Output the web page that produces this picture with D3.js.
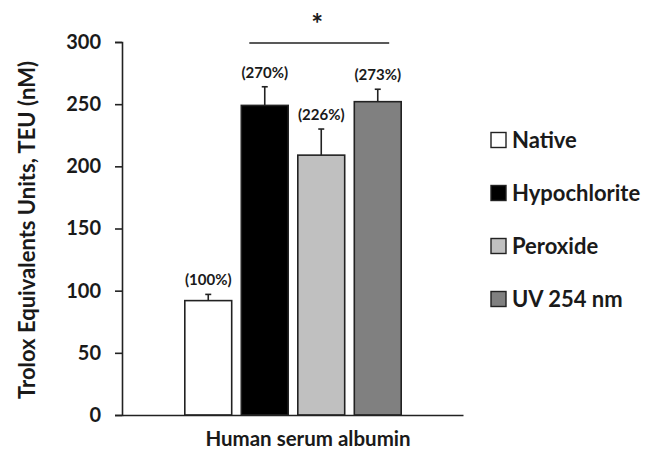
<!DOCTYPE html>
<html>
<head>
<meta charset="utf-8">
<script src="https://cdn.jsdelivr.net/npm/d3@7"></script>
<style>
  html, body { margin: 0; padding: 0; background: #fff; }
  svg text { font-family: Lato, "Open Sans", sans-serif; font-weight: 700; fill: #1a1a1a; }
</style>
</head>
<body>
<svg id="chart" width="655" height="452"></svg>
<script>
// Antioxidant capacity of human serum albumin after oxidative treatments
const groups = ["Human serum albumin"];
const treatments = ["Native", "Hypochlorite", "Peroxide", "UV 254 nm"];
const teuMeans = [92, 249, 209, 252];
const teuErrors = [5, 15, 21, 10];
const percentLabels = ["(100%)", "(270%)", "(226%)", "(273%)"];
const fills = ["#ffffff", "#000000", "#c0c0c0", "#808080"];
const yTicks = [0, 50, 100, 150, 200, 250, 300];

const svg = d3.select("#chart");
const plotLeft = 122, plotRight = 463, plotTop = 42, plotBottom = 415;

const y = d3.scaleLinear().domain([0, 300]).range([plotBottom, plotTop]);
const x0 = d3.scaleBand().domain(groups).range([plotLeft, plotRight]).paddingInner(0).paddingOuter(0);
// inner band spans the bar cluster inside the group band
const x1 = d3.scaleBand().domain(treatments)
  .range([58, 58 + 226]).paddingInner(0.17).paddingOuter(0.085);

const data = treatments.map((t, i) => ({
  t, v: teuMeans[i], e: teuErrors[i], p: percentLabels[i], c: fills[i]
}));

const barX = d => x0(groups[0]) + x1(d.t);
const cx = d => barX(d) + x1.bandwidth() / 2;

// bars
const g = svg.append("g");
g.selectAll("rect.bar").data(data).join("rect")
  .attr("class", "bar")
  .attr("x", barX)
  .attr("y", d => y(d.v))
  .attr("width", x1.bandwidth())
  .attr("height", d => y(0) - y(d.v))
  .attr("fill", d => d.c)
  .attr("stroke", "#222")
  .attr("stroke-width", 1.6);

// error bars (upper only)
g.selectAll("line.err").data(data).join("line")
  .attr("class", "err")
  .attr("x1", cx).attr("x2", cx)
  .attr("y1", d => y(d.v)).attr("y2", d => y(d.v + d.e))
  .attr("stroke", "#222").attr("stroke-width", 1.6);
g.selectAll("line.cap").data(data).join("line")
  .attr("class", "cap")
  .attr("x1", d => cx(d) - 3).attr("x2", d => cx(d) + 3)
  .attr("y1", d => y(d.v + d.e)).attr("y2", d => y(d.v + d.e))
  .attr("stroke", "#222").attr("stroke-width", 1.6);

// percentage labels above error bars
g.selectAll("text.pct").data(data).join("text")
  .attr("class", "pct")
  .attr("x", cx)
  .attr("y", d => y(d.v + d.e) - 9)
  .attr("text-anchor", "middle")
  .style("font-size", "15px")
  .text(d => d.p);

// y axis
const yAxis = d3.axisLeft(y).tickValues(yTicks).tickSize(7).tickPadding(14).tickFormat(d3.format("d"));
const ya = svg.append("g").attr("transform", `translate(${plotLeft},0)`).call(yAxis);
ya.select(".domain").attr("stroke", "#222").attr("stroke-width", 1.6);
ya.selectAll(".tick line").attr("stroke", "#222").attr("stroke-width", 1.6);
ya.selectAll(".tick text").style("font-size", "20px").attr("fill", "#1a1a1a");

// x axis baseline
const xAxis = d3.axisBottom(x0).tickSize(0).tickFormat("");
const xa = svg.append("g").attr("transform", `translate(0,${plotBottom})`).call(xAxis);
xa.select(".domain").attr("stroke", "#222").attr("stroke-width", 1.6);

// group label
svg.append("text")
  .attr("x", 308).attr("y", 446)
  .attr("text-anchor", "middle")
  .style("font-size", "20.5px")
  .text(groups[0]);

// y axis title
svg.append("text")
  .attr("transform", `translate(35,230) rotate(-90)`)
  .attr("text-anchor", "middle")
  .style("font-size", "22px")
  .text("Trolox Equivalents Units, TEU (nM)");

// significance bracket over treated samples
const sigX1 = barX(data[1]) + 8;
const sigX2 = barX(data[3]) + x1.bandwidth() - 12;
svg.append("line")
  .attr("x1", sigX1).attr("x2", sigX2)
  .attr("y1", 43).attr("y2", 43)
  .attr("stroke", "#222").attr("stroke-width", 1.6);
svg.append("text")
  .attr("x", (sigX1 + sigX2) / 2 - 2).attr("y", 34)
  .attr("text-anchor", "middle")
  .style("font-size", "28px")
  .text("*");

// legend
const legend = svg.append("g").attr("transform", "translate(491,0)");
const legendY = d3.scalePoint().domain(treatments).range([140, 299]);
const li = legend.selectAll("g").data(data).join("g")
  .attr("transform", d => `translate(0,${legendY(d.t)})`);
li.append("rect")
  .attr("x", 0).attr("y", -7.5).attr("width", 15).attr("height", 15)
  .attr("fill", d => d.c).attr("stroke", "#222").attr("stroke-width", 1.4);
li.append("text")
  .attr("x", 21).attr("y", 0).attr("dy", "0.36em")
  .style("font-size", "22px")
  .text(d => d.t);
</script>
</body>
</html>
